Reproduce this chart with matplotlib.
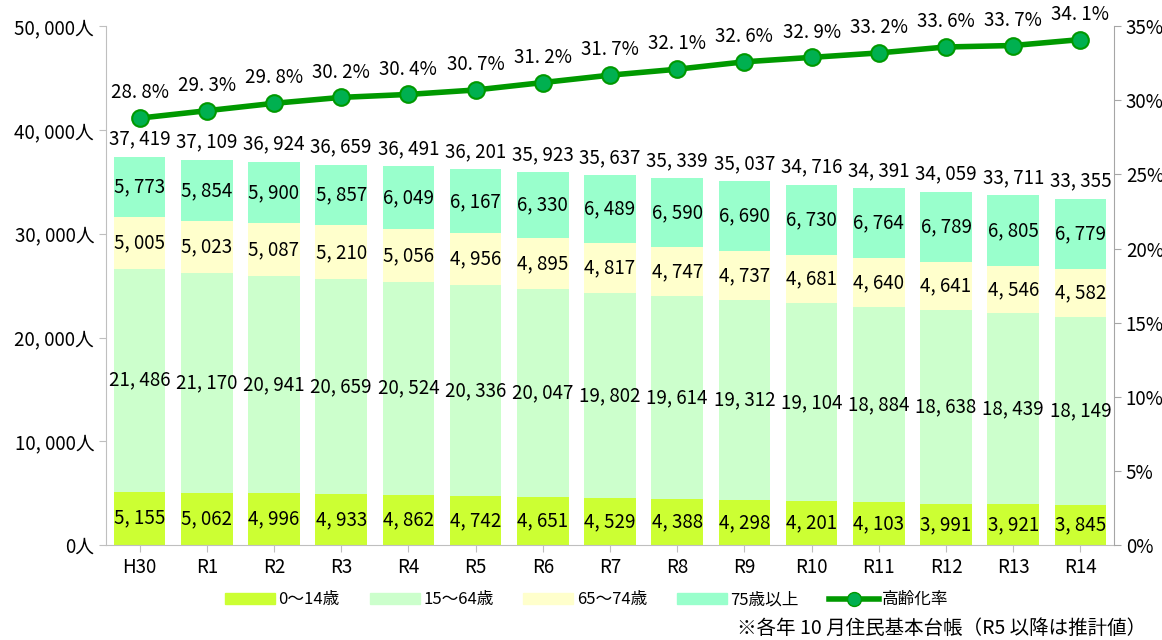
import matplotlib.pyplot as plt
import numpy as np
from matplotlib.lines import Line2D
from matplotlib.patches import Patch

plt.rcParams['font.family'] = ['Noto Sans CJK JP', 'DejaVu Sans']

years = ['H30', 'R1', 'R2', 'R3', 'R4', 'R5', 'R6', 'R7', 'R8', 'R9', 'R10', 'R11', 'R12', 'R13', 'R14']
age_0_14 = [5155, 5062, 4996, 4933, 4862, 4742, 4651, 4529, 4388, 4298, 4201, 4103, 3991, 3921, 3845]
age_15_64 = [21486, 21170, 20941, 20659, 20524, 20336, 20047, 19802, 19614, 19312, 19104, 18884, 18638, 18439, 18149]
age_65_74 = [5005, 5023, 5087, 5210, 5056, 4956, 4895, 4817, 4747, 4737, 4681, 4640, 4641, 4546, 4582]
age_75up = [5773, 5854, 5900, 5857, 6049, 6167, 6330, 6489, 6590, 6690, 6730, 6764, 6789, 6805, 6779]
totals = [37419, 37109, 36924, 36659, 36491, 36201, 35923, 35637, 35339, 35037, 34716, 34391, 34059, 33711, 33355]
aging_rate = [28.8, 29.3, 29.8, 30.2, 30.4, 30.7, 31.2, 31.7, 32.1, 32.6, 32.9, 33.2, 33.6, 33.7, 34.1]

series = [age_0_14, age_15_64, age_65_74, age_75up]
names = ['0～14歳', '15～64歳', '65～74歳', '75歳以上']
colors = ['#CCFF33', '#CCFFCC', '#FFFFCC', '#99FFCC']

fig = plt.figure(figsize=(11.62, 6.4), dpi=100)
ax = fig.add_axes([0.0912, 0.1484, 0.8675, 0.8106])
x = np.arange(len(years))
bottom = np.zeros(len(years))
for vals, c in zip(series, colors):
    vals = np.array(vals)
    ax.bar(x, vals, bottom=bottom, width=0.77, color=c, zorder=2)
    for xi, b, v in zip(x, bottom, vals):
        ax.text(xi, b + v / 2, f'{v:,}'.replace(',', ', '), ha='center', va='center', fontsize=13.5)
    bottom += vals

for xi, t in zip(x, totals):
    ax.text(xi, t + 700, f'{t:,}'.replace(',', ', '), ha='center', va='bottom', fontsize=13.5)

ax.set_xlim(-0.5, len(years) - 0.5)
ax.set_ylim(0, 50000)
ax.set_yticks(np.arange(0, 50001, 10000))
ax.set_yticklabels([f'{v:,}人'.replace(',', ', ') for v in range(0, 50001, 10000)], fontsize=13.5)
ax.set_xticks(x)
ax.set_xticklabels(years, fontsize=13.5)
for s in ['top', 'right']:
    ax.spines[s].set_visible(False)
for s in ['left', 'bottom']:
    ax.spines[s].set_color('#BFBFBF')
ax.tick_params(axis='both', color='#BFBFBF', length=5)

# aging rate on the secondary axis
ax2 = ax.twinx()
ax2.plot(x, aging_rate, color='#009900', lw=4, marker='o', markersize=12,
         markerfacecolor='#00B050', markeredgecolor='#009900', markeredgewidth=1.5, zorder=5)
for xi, r in zip(x, aging_rate):
    ax2.text(xi, r + 1.0, f'{r:.1f}%'.replace('.', '. '), ha='center', va='bottom', fontsize=13.5)
ax2.set_ylim(0, 35)
ax2.set_yticks(np.arange(0, 36, 5))
ax2.set_yticklabels([f'{v}%' for v in range(0, 36, 5)], fontsize=13.5)
for s in ['top', 'left', 'bottom']:
    ax2.spines[s].set_visible(False)
ax2.spines['right'].set_color('#A6A6A6')
ax2.tick_params(axis='y', color='#A6A6A6', length=5)

handles = [Patch(color=c) for c in colors]
handles.append(Line2D([0], [0], color='#009900', lw=4, marker='o', markersize=10,
                      markerfacecolor='#00B050', markeredgecolor='#009900'))
fig.legend(handles, names + ['高齢化率'], loc='center', bbox_to_anchor=(0.505, 0.063), ncol=5,
           frameon=False, fontsize=12, handlelength=3.0, handleheight=0.6, columnspacing=1.8,
           handletextpad=0.2)
fig.text(0.986, 0.018, '※各年 10 月住民基本台帳（R5 以降は推計値）', ha='right', va='center', fontsize=14)

fig.savefig('out.png', dpi=100)
